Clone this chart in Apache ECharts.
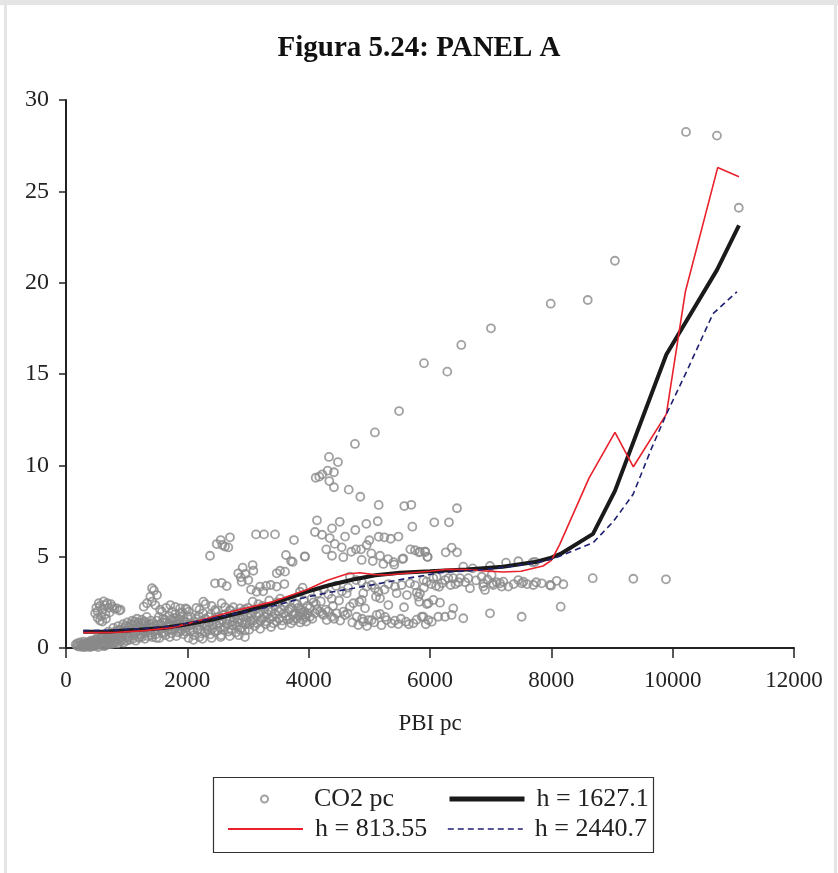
<!DOCTYPE html>
<html><head><meta charset="utf-8">
<script src="https://cdn.jsdelivr.net/npm/echarts@6/dist/echarts.min.js"></script>
<style>html,body{margin:0;padding:0;background:#fff}#c{width:838px;height:873px}</style>
</head><body><div id="c"></div>
<script>
const titleText = 'Figura 5.24: PANEL A';
const xName = 'PBI pc';
const seriesNames = ['CO2 pc', 'h = 1627.1', 'h = 813.55', 'h = 2440.7'];

// CO2 per capita scatter [PBI pc, CO2 pc]
const co2pc = [
[180,0.12],[210,0.08],[240,0.15],[260,0.1],[280,0.2],[300,0.12],[320,0.05],[340,0.18],[360,0.1],[380,0.22],[400,0.15],[420,0.08],[440,0.25],[460,0.18],[480,0.3],[500,0.12],[520,0.22],[540,0.35],[560,0.2],[580,0.28],[600,0.15],[300,0.25],[350,0.3],[420,0.35],[470,0.4],[510,0.45],[550,0.5],[590,0.42],
[160,0.2],[190,0.25],[230,0.3],[270,0.05],[290,0.35],[330,0.15],[370,0.3],[390,0.05],[410,0.4],[450,0.1],[490,0.5],[530,0.05],[570,0.55],[610,0.6],[630,0.1],[670,0.45],[690,0.75],[710,0.3],[730,0.55],[770,0.65],[790,0.25],[810,0.9],[830,0.4],[870,1.0],[890,0.55],[910,0.8],[930,0.45],[970,0.95],[990,1.2],[1030,0.65],[1070,1.3],[1110,0.9],[1130,1.45],[1190,1.4],[1210,0.6],[1230,1.1],[1270,0.8],[1290,1.45],[1310,1.05],[1370,1.2],[1390,0.85],
[620,0.3],[640,0.5],[660,0.25],[680,0.6],[700,0.4],[720,0.7],[740,0.35],[760,0.55],[780,0.8],[800,0.45],[820,0.65],[840,0.9],[860,0.5],[880,0.75],[900,1.0],[920,0.6],[940,0.85],[960,1.1],[980,0.7],[1000,0.95],[1020,0.55],[1040,1.15],[1060,0.8],[1080,1.0],[1100,1.25],[1120,0.7],[1140,1.05],[1160,1.3],[1180,0.9],[1200,1.15],[1220,0.75],[1240,1.35],[1260,1.0],[1280,1.2],[1300,0.85],[1320,1.4],[1340,1.1],[1360,0.95],[1380,1.3],[1400,1.5],
[650,0.15],[700,0.2],[750,0.22],[800,0.3],[850,0.25],[900,0.35],[950,0.3],[1000,0.4],[1050,0.45],[1100,0.5],[1150,0.4],[1200,0.55],[1250,0.6],[1300,0.5],[1350,0.65],[1400,0.7],
[700,0.9],[780,1.1],[860,1.2],[940,1.3],[1010,1.4],[1090,1.5],[1170,1.6],[1250,1.55],[1330,1.7],
[480,1.9],[500,2.2],[520,2.0],[540,2.45],[560,2.3],[580,1.75],[600,2.1],[620,2.55],[640,2.35],[660,1.6],[680,2.45],[700,2.2],[720,1.95],[740,2.4],[760,2.26],[800,2.15],[840,2.17],[880,2.05],[900,2.1],[560,1.5],[600,1.45],[650,1.85],[520,1.65],
[1420,0.6],[1440,0.9],[1460,1.2],[1480,0.75],[1500,1.5],[1520,1.0],[1540,0.55],[1560,1.3],[1580,0.85],[1600,1.6],[1620,1.1],[1640,0.7],[1660,1.4],[1680,0.95],[1700,1.75],[1720,1.2],[1740,0.8],[1760,1.5],[1780,1.05],[1800,1.85],[1820,0.65],[1840,1.3],[1860,1.6],[1880,0.9],[1900,1.2],[1920,1.95],[1940,0.75],[1960,1.45],[1980,1.1],[2000,1.7],
[1410,1.1],[1430,1.35],[1470,1.0],[1490,0.55],[1510,1.25],[1530,1.7],[1570,1.05],[1590,1.4],[1610,0.8],[1630,1.55],[1670,1.15],[1690,1.3],[1710,0.6],[1730,1.55],[1750,1.0],[1770,1.25],[1790,1.65],[1810,1.1],[1830,1.5],[1850,0.85],[1870,1.35],[1890,1.7],[1910,1.0],[1930,1.5],[1950,1.25],[1970,0.9],[1990,1.4],
[1418,3.27],[1390,2.81],[1335,2.45],[1418,2.54],[1472,2.35],[1281,2.26],[1720,2.35],[1582,1.99],[1747,1.99],[1884,1.9],[1967,2.17],[2022,1.99],[1450,3.15],[1500,2.9],[1550,2.1],[1650,2.2],[1800,2.25],[1879,2.17],[1990,2.12],
[2020,0.55],[2050,0.9],[2080,1.3],[2110,0.7],[2140,1.6],[2170,1.0],[2200,0.6],[2230,1.45],[2260,1.9],[2290,0.85],[2320,1.2],[2350,1.7],[2380,0.75],[2410,1.05],[2440,1.55],[2470,2.0],[2500,0.95],[2530,1.35],[2560,0.7],[2590,1.8],[2620,1.15],[2650,1.5],[2680,0.9],[2710,2.05],[2740,1.25],[2770,1.65],[2800,0.85],[2830,1.4],[2860,1.95],[2890,1.1],[2920,1.7],[2950,0.95],[2980,1.5],[3000,2.2],
[2030,1.2],[2060,1.7],[2090,1.0],[2120,1.45],[2160,1.25],[2190,1.75],[2220,1.0],[2240,0.8],[2270,1.3],[2300,1.6],[2330,1.0],[2360,1.4],[2390,1.85],[2420,1.25],[2450,0.9],[2480,1.3],[2510,1.7],[2540,1.1],[2570,1.55],[2600,1.0],[2630,1.85],[2660,1.3],[2690,1.6],[2720,1.0],[2750,1.45],[2780,1.9],[2810,1.2],[2840,1.6],[2870,1.0],[2900,1.4],[2930,2.0],[2960,1.3],[2990,1.8],
[2100,0.45],[2250,0.5],[2400,0.55],[2550,0.6],[2700,0.65],[2850,0.7],[2950,0.6],
[2703,6.06],[2550,5.91],[2484,5.69],[2577,5.64],[2621,5.55],[2676,5.51],[2374,5.05],[2456,3.54],[2566,3.57],[2649,3.39],[2264,2.54],[2401,2.3],[2456,2.08],[2566,2.45],[2621,2.23],[2703,2.08],[2758,2.23],[2868,2.17],[2950,2.12],[2912,4.4],[2840,4.09],[2879,3.87],[2955,4.05],[2896,3.63],[3005,3.72],[2200,2.1],[2300,2.4],[2150,2.2],
[3020,1.0],[3050,1.5],[3080,2.0],[3110,1.2],[3140,1.75],[3170,2.4],[3200,1.05],[3230,1.6],[3260,2.15],[3290,1.3],[3320,1.85],[3350,2.6],[3380,1.15],[3410,1.7],[3440,2.3],[3470,1.45],[3500,2.0],[3530,2.7],[3560,1.25],[3590,1.9],[3620,2.5],[3650,1.55],[3680,2.1],[3710,1.35],[3740,1.8],[3770,2.45],[3800,1.6],[3830,2.2],[3860,1.4],[3890,1.95],[3920,2.6],[3950,1.7],[3980,2.3],
[3030,1.3],[3060,1.8],[3090,1.5],[3120,2.1],[3150,1.35],[3180,1.9],[3210,1.5],[3240,2.3],[3270,1.7],[3300,1.45],[3330,2.1],[3360,1.6],[3390,2.0],[3420,1.35],[3450,1.85],[3480,2.5],[3510,1.6],[3540,2.1],[3570,1.5],[3600,2.3],[3630,1.75],[3660,2.0],[3690,1.6],[3720,2.2],[3750,1.5],[3780,1.9],[3810,2.4],[3840,1.75],[3870,2.1],[3900,1.55],[3930,2.0],[3960,1.45],[3990,1.9],
[3132,6.22],[3264,6.22],[3445,6.22],[3758,5.91],[3626,5.09],[3709,4.76],[3736,4.71],[3940,5.0],[3077,4.54],[3088,4.23],[3473,4.09],[3528,4.23],[3610,4.18],[3374,3.45],[3473,3.36],[3198,3.36],[3143,3.08],[3077,2.54],[3857,3.08],[3300,3.4],[3600,3.5],[3900,3.3],[3050,3.2],[3250,3.1],
[4763,11.17],[4335,10.46],[4483,10.18],[4116,9.32],[4175,9.38],[4225,9.51],[4313,9.71],[4417,9.62],[4340,9.14],[4417,8.8],[4660,8.67],[4851,8.28],[5154,7.83],[5576,7.77],[5692,7.84],[4137,6.99],[4512,6.91],[5138,6.94],[4104,6.35],[4385,6.55],[4769,6.46],[5709,6.64],[4347,6.02],[5154,6.09],[5247,6.06],[5352,5.98],[4545,5.51],[3935,5.02],[4385,5.05],[4571,4.97],[4703,5.27],[4780,5.4],[4863,5.4],[4957,5.64],[5033,5.18],[5056,4.76],[5176,5.05],[4874,4.82],[5308,4.87],[5231,4.6],[5544,4.87],[5560,4.9],[5412,4.56],[5676,5.4],[5753,5.35],[5819,5.24],[5923,5.27],[5962,4.98],
[3857,1.9],[3940,1.81],[4022,1.71],[4104,1.9],[4187,1.99],[4242,1.81],[4297,1.53],[4379,1.71],[4462,1.9],[4571,1.99],[4681,2.26],[4791,1.71],[4818,1.26],[4901,1.44],[4984,1.53],[5039,1.53],[5121,1.81],[5176,1.86],[5286,1.53],[5368,1.35],[5478,1.31],[5604,1.44],[5725,1.35],[5890,1.71],[5972,1.53],
[4060,1.6],[4140,2.1],[4220,1.9],[4320,2.0],[4420,1.6],[4520,1.5],[4640,1.9],[4720,1.4],[4880,1.6],[4960,1.2],[5080,1.4],[5200,1.25],[5260,1.7],[5420,1.5],[5520,1.6],[5650,1.3],[5780,1.55],[5930,1.3],
[4324,2.94],[4627,2.99],[4736,2.45],[4835,2.53],[4874,2.63],[4929,2.17],[5176,2.72],[5110,2.81],[5148,3.08],[5313,2.35],[5572,2.23],[5808,2.81],[5824,2.53],[5781,3.03],[5946,2.41],[5313,3.5],[5423,3.36],[5533,3.45],[5670,3.54],[5753,3.43],[4957,3.36],[5039,3.45],[5093,3.27],[4874,3.63],[4780,3.72],[4681,3.9],
[4050,2.7],[4150,3.0],[4200,2.55],[4250,3.2],[4450,3.4],[4550,3.1],[4020,2.2],[4120,2.4],[4280,2.1],[4400,2.3],[4500,2.6],[4600,1.8],
[4080,2.5],[4380,2.7],[4650,3.3],[4900,3.0],[5250,3.2],[5450,3.0],[5620,2.9],[5900,3.3],
[4220,6.2],[4290,5.4],[4430,5.7],[4600,6.1],[4950,6.8],[5000,5.9],[5400,4.7],[5480,6.1],
[7005,17.5],[6516,16.59],[5901,15.59],[6285,15.13],[5490,12.97],[5092,11.8],
[6445,7.65],[6071,6.88],[6313,6.88],[5918,5.27],[5956,5.0],[5835,5.27],[6259,5.24],[6358,5.49],[6445,5.24],[6549,4.45],[6704,4.36],[6989,4.49],[7253,4.67],[7456,4.75],[7693,4.69],[7731,4.72],
[5890,3.72],[5946,3.63],[6055,3.82],[6110,3.9],[6247,3.72],[6302,3.82],[6384,3.82],[6494,3.82],[6632,3.82],[6852,3.9],[6879,3.54],[7016,4.0],[7033,3.54],[7154,3.54],[7209,3.63],[7291,3.36],[7456,3.72],[7511,3.54],[7539,3.63],[7704,3.45],[7841,3.54],[7978,3.45],[8088,3.68],
[6020,3.5],[6100,3.4],[6340,3.45],[6470,3.6],[6760,3.7],[6950,3.75],[7100,3.6],[7380,3.5],[7600,3.5],[7750,3.6],
[5835,2.99],[5973,2.45],[6055,2.63],[6165,2.48],[6384,2.17],[6549,1.63],[6137,1.71],[6247,1.71],[6357,1.81],[6028,1.44],[5863,1.71],[6989,1.9],[7511,1.71],[6659,3.27],[6879,3.36],[6907,3.18],[7044,3.45],[7182,3.36],
[6150,3.35],[6200,3.55],[6420,3.5],[6580,3.6],
[7995,3.41],[8198,3.49],[8154,2.26],[8682,3.82],[9352,3.79],[9890,3.76],
[7990,18.85],[8600,19.05],[9048,21.2],[10220,28.25],[10730,28.05],[11090,24.1]
];

// Kernel fits [PBI pc, CO2 pc]
const h1627 = [[285,0.89],[700,0.9],[1200,1.0],[1600,1.1],[1933,1.26],[2400,1.55],[2900,1.95],[3417,2.45],[3967,3.08],[4350,3.45],[4735,3.75],[5100,3.98],[5505,4.12],[6000,4.2],[6604,4.3],[7200,4.45],[7757,4.72],[8000,4.95],[8150,5.15],[8687,6.25],[9049,8.6],[9896,16.07],[10731,20.7],[11093,23.14]];
const h813 = [[285,0.84],[800,0.85],[1300,0.95],[1769,1.13],[2200,1.5],[2800,2.05],[3417,2.54],[3967,3.19],[4300,3.7],[4626,4.05],[4845,4.12],[5065,4.02],[5300,4.0],[5615,4.09],[6000,4.2],[6274,4.31],[6600,4.3],[6900,4.22],[7200,4.16],[7500,4.2],[7863,4.49],[8000,4.8],[8137,5.66],[8621,9.3],[9049,11.8],[9352,9.92],[9896,12.8],[10209,19.5],[10742,26.3],[11093,25.8]];
const h2440 = [[285,0.95],[800,0.98],[1300,1.07],[1769,1.2],[2300,1.55],[2900,1.95],[3417,2.3],[3967,2.79],[4350,3.05],[4735,3.27],[5200,3.55],[5615,3.81],[6164,4.12],[6823,4.27],[7300,4.45],[7757,4.67],[8027,4.88],[8687,5.76],[9016,6.9],[9346,8.4],[9648,10.9],[9896,12.8],[10225,15.1],[10665,18.3],[11060,19.5]];

const FONT = 'Liberation Serif';
const chart = echarts.init(document.getElementById('c'), null, {renderer:'canvas'});
const legendBase = {
  orient:'horizontal', padding:0, itemWidth:75, selectedMode:false,
  textStyle:{fontFamily:FONT, fontSize:26, color:'#222', padding:[0,0,0,7]}
};
const noSym = {color:'rgba(0,0,0,0)', borderWidth:0, opacity:0};
chart.setOption({
  animation:false,
  backgroundColor:'#fff',
  title:{text:titleText, left:'center', top:29, textStyle:{fontFamily:FONT, fontSize:29, fontWeight:'bold', color:'#111'}},
  grid:{left:66, top:100, width:728, height:548},
  xAxis:{type:'value', min:0, max:12000, interval:2000, name:xName, nameLocation:'middle', nameGap:64,
    nameTextStyle:{fontFamily:FONT, fontSize:23, color:'#222'},
    axisLine:{show:true, lineStyle:{color:'#222', width:2}},
    axisTick:{show:true, length:10, lineStyle:{color:'#222', width:1.5}},
    axisLabel:{fontFamily:FONT, fontSize:23, color:'#222', margin:21, formatter:function(v){return String(v);}},
    splitLine:{show:false}},
  yAxis:{type:'value', min:0, max:30, interval:5,
    axisLine:{show:true, lineStyle:{color:'#222', width:2}},
    axisTick:{show:true, length:7, lineStyle:{color:'#222', width:1.5}},
    axisLabel:{fontFamily:FONT, fontSize:24, color:'#222', margin:17},
    splitLine:{show:false}},
  legend:[
    Object.assign({}, legendBase, {data:[seriesNames[0]], left:260, top:786, itemHeight:7}),
    Object.assign({}, legendBase, {data:[seriesNames[1]], left:447, top:786, itemHeight:14, itemStyle:noSym, lineStyle:{width:5}}),
    Object.assign({}, legendBase, {data:[seriesNames[2]], left:227, top:816, itemHeight:14, itemStyle:noSym}),
    Object.assign({}, legendBase, {data:[seriesNames[3]], left:447, top:816, itemHeight:14, itemStyle:noSym, lineStyle:{type:[6,4], width:1.6}})
  ],
  graphic:[
    {type:'rect', shape:{x:213.5, y:777.5, width:440, height:75}, style:{fill:'none', stroke:'#333', lineWidth:1.2}, silent:true},
    {type:'rect', shape:{x:0, y:0, width:838, height:5}, style:{fill:'#e4e4e4'}, silent:true},
    {type:'rect', shape:{x:4, y:0, width:3, height:873}, style:{fill:'#e4e4e4'}, silent:true},
    {type:'rect', shape:{x:834, y:0, width:3, height:873}, style:{fill:'#e4e4e4'}, silent:true}
  ],
  series:[
    {name:seriesNames[0], type:'scatter', data:co2pc, symbol:'circle', symbolSize:8,
      itemStyle:{color:'rgba(0,0,0,0)', borderColor:'#8a8a8a', borderWidth:1.8}},
    {name:seriesNames[1], type:'line', data:h1627, showSymbol:false, symbol:'none',
      lineStyle:{color:'#1a1a1a', width:4}, itemStyle:{color:'#1a1a1a'}},
    {name:seriesNames[2], type:'line', data:h813, showSymbol:false, symbol:'none',
      lineStyle:{color:'#e8212b', width:1.6}, itemStyle:{color:'#e8212b'}},
    {name:seriesNames[3], type:'line', data:h2440, showSymbol:false, symbol:'none',
      lineStyle:{color:'#1f1f72', width:1.6, type:[6,4]}, itemStyle:{color:'#1f1f72'}}
  ]
});
</script></body></html>
